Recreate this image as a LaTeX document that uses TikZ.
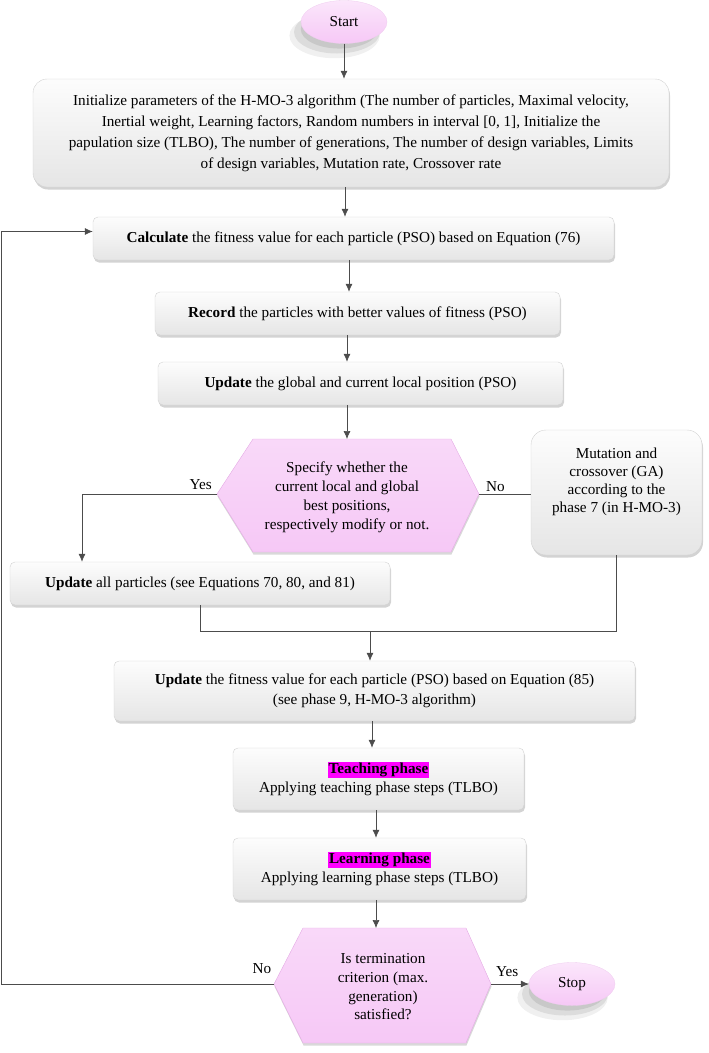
\documentclass[tikz,border=0pt]{standalone}
\usepackage{fontspec}
\setmainfont{Liberation Serif}
\usetikzlibrary{shapes.geometric,shadows,arrows.meta,calc}
\definecolor{pinkf}{RGB}{246,200,246}
\definecolor{pinkd}{RGB}{228,170,228}
\definecolor{hl}{RGB}{255,0,255}
\setlength{\fboxsep}{1pt}
\begin{document}
\begin{tikzpicture}[x=1pt,y=-1pt,
  txt/.style={font=\fontsize{15.2}{21}\selectfont, align=center, text=black},
  gbox/.style={txt, draw=gray!35, line width=0.4pt, rounded corners=5pt,
    top color=gray!2, bottom color=gray!20, inner sep=0pt,
    drop shadow={shadow xshift=1pt, shadow yshift=-2.5pt, opacity=.35}},
  pinkell/.style={txt, ellipse, draw=pinkd!60, line width=0.3pt, top color=pinkf!45!white, bottom color=pinkf,
    minimum width=86pt, minimum height=43pt, inner sep=0pt,
    drop shadow={shadow xshift=-9pt, shadow yshift=-13pt, opacity=.12, fill=gray, shadow scale=1.05},
    drop shadow={shadow xshift=-7pt, shadow yshift=-10pt, opacity=.18, fill=gray},
    drop shadow={shadow xshift=-5pt, shadow yshift=-8pt, opacity=.22, fill=gray, shadow scale=.9}},
  hexa/.style={draw=pinkd, line width=0.4pt, top color=pinkf!70!white, bottom color=pinkf,
    drop shadow={shadow xshift=0.5pt, shadow yshift=-2.5pt, opacity=.3}},
  conn/.style={draw=black!70, line width=0.7pt},
  arr/.style={conn, -{Latex[length=8pt,width=7pt]}},
  lbl/.style={txt, inner sep=0pt}]
\useasboundingbox (0,0) rectangle (709,1053);

% nodes
\node[pinkell] (start) at (344,22) {Start};
\node[gbox, rounded corners=14pt, minimum width=636pt, minimum height=108pt] (init) at (351,133)
 {Initialize parameters of the H-MO-3 algorithm (The number of particles, Maximal velocity,\\
  Inertial weight, Learning factors, Random numbers in interval [0, 1], Initialize the\\
  papulation size (TLBO), The number of generations, The number of design variables, Limits\\
  of design variables, Mutation rate, Crossover rate};
\node[gbox, minimum width=521pt, minimum height=43pt] (calc) at (353.5,238.5)
 {\textbf{Calculate} the fitness value for each particle (PSO) based on Equation (76)};
\node[gbox, minimum width=405pt, minimum height=43pt] (record) at (357.5,313.5)
 {\textbf{Record} the particles with better values of fitness (PSO)};
\node[gbox, minimum width=405pt, minimum height=43pt] (updpos) at (360.5,383.5)
 {\textbf{Update} the global and current local position (PSO)};

% decision 1
\coordinate (d1w) at (217,494);
\coordinate (d1e) at (479,494);
\coordinate (d1n) at (347,439);
\path[hexa] (d1w) -- (253,439) -- (451,439) -- (d1e) -- (451,552) -- (253,552) -- cycle;
\node[txt, font=\fontsize{15.2}{19}\selectfont] (d1) at (347,497)
 {Specify whether the\\current local and global\\best positions,\\respectively modify or not.};

\node[gbox, rounded corners=15pt, minimum width=171pt, minimum height=125pt] (mut) at (616.5,492.5) {};
\node[txt, font=\fontsize{15.2}{18}\selectfont] (mutt) at (616.5,482)
 {Mutation and\\crossover (GA)\\according to the\\phase 7 (in H-MO-3)};

\node[gbox, minimum width=380pt, minimum height=43pt] (updall) at (200,583.5)
 {\textbf{Update} all particles (see Equations 70, 80, and 81)};

\node[gbox, minimum width=521pt, minimum height=60pt, font=\fontsize{15.2}{20}\selectfont] (updfit) at (374.5,691)
 {\textbf{Update} the fitness value for each particle (PSO) based on Equation (85)\\(see phase 9, H-MO-3 algorithm)};
\node[gbox, minimum width=291pt, minimum height=62pt, font=\fontsize{15.2}{19}\selectfont] (teach) at (378.5,779)
 {\textbf{\colorbox{hl}{Teaching phase}}\\Applying teaching phase steps (TLBO)};
\node[gbox, minimum width=293pt, minimum height=62pt, font=\fontsize{15.2}{19}\selectfont] (learn) at (379.5,869)
 {\textbf{\colorbox{hl}{Learning phase}}\\Applying learning phase steps (TLBO)};

% decision 2
\coordinate (d2w) at (274,984);
\coordinate (d2e) at (491,984);
\coordinate (d2n) at (376,928);
\path[hexa] (d2w) -- (303,928) -- (466,928) -- (d2e) -- (466,1043) -- (303,1043) -- cycle;
\node[txt, font=\fontsize{15.2}{18.7}\selectfont] (d2) at (383,987)
 {Is termination\\criterion (max.\\generation)\\satisfied?};

\node[pinkell] (stop) at (572,984) {Stop};

% connectors
\draw[arr] (start.south) -- (start.south |- init.north);
\draw[arr] ([xshift=-6pt]init.south) -- ([xshift=-6pt]init.south |- calc.north);
\draw[arr] ([xshift=-4.5pt]calc.south) -- ([xshift=-4.5pt]calc.south |- record.north);
\draw[arr] ([xshift=-10.5pt]record.south) -- ([xshift=-10.5pt]record.south |- updpos.north);
\draw[arr] ([xshift=-13.5pt]updpos.south) -- (d1n);

\draw[arr] (d1w) -| ([xshift=-118pt]updall.north);
\node[lbl, anchor=base east] (yes1) at (212,489) {Yes};
\draw[conn] (d1e) -- (d1e -| mut.west);
\node[lbl, anchor=base west] (no1) at (486,491) {No};

\coordinate (mL) at (200,631);
\coordinate (mR) at (616.5,631);
\coordinate (mM) at (370,631);
\draw[conn] (updall.south) -- (mL) -- (mR) -- (mut.south);
\draw[arr] (mM) -- (mM |- updfit.north);

\draw[arr] ([xshift=-2.5pt]updfit.south) -- ([xshift=-2.5pt]updfit.south |- teach.north);
\draw[arr] ([xshift=-2.5pt]teach.south) -- ([xshift=-2.5pt]teach.south |- learn.north);
\draw[arr] ([xshift=-3.5pt]learn.south) -- (d2n);

\draw[arr] (d2e) -- (stop.west);
\node[lbl, anchor=base west] (yes2) at (496,976) {Yes};
\draw[arr] (d2w) -- (1,984) |- ([yshift=7pt]calc.west);
\node[lbl, anchor=base] (no2) at (262,973) {No};
\end{tikzpicture}
\end{document}
